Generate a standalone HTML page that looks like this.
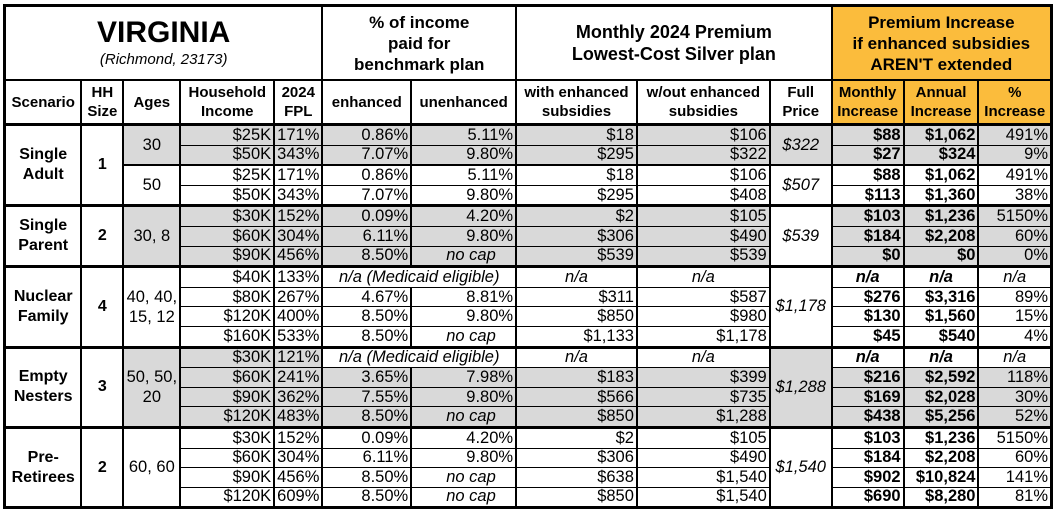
<!DOCTYPE html>
<html><head><meta charset="utf-8">
<style>
html,body{margin:0;padding:0;background:#fff;width:1053px;height:512px;overflow:hidden}
table{position:absolute;left:3px;top:4px;border-collapse:collapse;table-layout:fixed;font-family:"Liberation Sans",Arial,sans-serif;font-size:16.5px;color:#000}
td{border-left:2px solid #000;border-right:2px solid #000;border-top:1px solid #000;border-bottom:1px solid #000;padding:0 2px;height:18.6px;line-height:17px;white-space:nowrap;overflow:hidden;text-align:right}
.h1 td{height:72px;border-top:3px solid #000;border-bottom:2px solid #000;text-align:center;font-weight:bold;font-size:17px;line-height:21px}
.h2 td{height:42px;border-bottom:3px solid #000;text-align:center;font-weight:bold;font-size:15px;line-height:19px}
.g{background:#d9d9d9}
.o{background:#fbbc3c}
.c{text-align:center}
.b{font-weight:bold}
.i{font-style:italic}
.sc{text-align:center;font-weight:bold;font-size:16px;line-height:20px}
.top td{border-top:3px solid #000}
.last td{border-bottom:3px solid #000}
.nc{text-align:left;padding-left:34px;font-style:italic}
</style></head><body>
<table>
<colgroup>
<col style="width:77px"><col style="width:42px"><col style="width:57px"><col style="width:94px"><col style="width:45px"><col style="width:89px"><col style="width:105px"><col style="width:121px"><col style="width:133px"><col style="width:62px"><col style="width:72px"><col style="width:75px"><col style="width:73px">
</colgroup>
<tr class="h1">
<td colspan="5" style="border-left:3px solid #000"><div style="font-size:30px;line-height:34px;margin-top:0px">VIRGINIA</div><div style="font-weight:normal;font-style:italic;font-size:15px;line-height:20px">(Richmond, 23173)</div></td>
<td colspan="2">% of income<br>paid for<br>benchmark plan</td>
<td colspan="3" style="font-size:18px;line-height:22px">Monthly 2024 Premium<br>Lowest-Cost Silver plan</td>
<td colspan="3" class="o" style="border-right:3px solid #000">Premium Increase<br>if enhanced subsidies<br>AREN'T extended</td>
</tr>
<tr class="h2">
<td style="border-left:3px solid #000">Scenario</td><td>HH<br>Size</td><td>Ages</td><td>Household<br>Income</td><td>2024<br>FPL</td><td>enhanced</td><td>unenhanced</td><td>with enhanced<br>subsidies</td><td>w/out enhanced<br>subsidies</td><td>Full<br>Price</td><td class="o">Monthly<br>Increase</td><td class="o">Annual<br>Increase</td><td class="o" style="border-right:3px solid #000">%<br>Increase</td>
</tr>
<!-- Single Adult -->
<tr class="top"><td rowspan="4" class="sc" style="border-left:3px solid #000;border-bottom:3px solid #000">Single<br>Adult</td><td rowspan="4" class="sc" style="border-bottom:3px solid #000">1</td><td rowspan="2" class="g c">30</td><td class="g">$25K</td><td class="g">171%</td><td class="g">0.86%</td><td class="g">5.11%</td><td class="g">$18</td><td class="g">$106</td><td rowspan="2" class="g c i">$322</td><td class="g b">$88</td><td class="g b">$1,062</td><td class="g" style="border-right:3px solid #000">491%</td></tr>
<tr><td class="g">$50K</td><td class="g">343%</td><td class="g">7.07%</td><td class="g">9.80%</td><td class="g">$295</td><td class="g">$322</td><td class="g b">$27</td><td class="g b">$324</td><td class="g" style="border-right:3px solid #000">9%</td></tr>
<tr><td rowspan="2" class="c" style="border-top:2px solid #000;border-bottom:3px solid #000">50</td><td style="border-top:2px solid #000">$25K</td><td style="border-top:2px solid #000">171%</td><td style="border-top:2px solid #000">0.86%</td><td style="border-top:2px solid #000">5.11%</td><td style="border-top:2px solid #000">$18</td><td style="border-top:2px solid #000">$106</td><td rowspan="2" class="c i" style="border-top:2px solid #000;border-bottom:3px solid #000">$507</td><td class="b" style="border-top:2px solid #000">$88</td><td class="b" style="border-top:2px solid #000">$1,062</td><td style="border-top:2px solid #000;border-right:3px solid #000">491%</td></tr>
<tr class="last"><td>$50K</td><td>343%</td><td>7.07%</td><td>9.80%</td><td>$295</td><td>$408</td><td class="b">$113</td><td class="b">$1,360</td><td style="border-right:3px solid #000">38%</td></tr>
<!-- Single Parent -->
<tr class="top"><td rowspan="3" class="sc" style="border-left:3px solid #000;border-bottom:3px solid #000">Single<br>Parent</td><td rowspan="3" class="sc" style="border-bottom:3px solid #000">2</td><td rowspan="3" class="g c" style="border-bottom:3px solid #000">30, 8</td><td class="g">$30K</td><td class="g">152%</td><td class="g">0.09%</td><td class="g">4.20%</td><td class="g">$2</td><td class="g">$105</td><td rowspan="3" class="c i" style="border-bottom:3px solid #000">$539</td><td class="g b">$103</td><td class="g b">$1,236</td><td class="g" style="border-right:3px solid #000">5150%</td></tr>
<tr><td class="g">$60K</td><td class="g">304%</td><td class="g">6.11%</td><td class="g">9.80%</td><td class="g">$306</td><td class="g">$490</td><td class="g b">$184</td><td class="g b">$2,208</td><td class="g" style="border-right:3px solid #000">60%</td></tr>
<tr class="last"><td class="g">$90K</td><td class="g">456%</td><td class="g">8.50%</td><td class="g nc">no cap</td><td class="g">$539</td><td class="g">$539</td><td class="g b">$0</td><td class="g b">$0</td><td class="g" style="border-right:3px solid #000">0%</td></tr>
<!-- Nuclear -->
<tr class="top"><td rowspan="4" class="sc" style="border-left:3px solid #000;border-bottom:3px solid #000">Nuclear<br>Family</td><td rowspan="4" class="sc" style="border-bottom:3px solid #000">4</td><td rowspan="4" class="c" style="border-bottom:3px solid #000;line-height:20px">40, 40,<br>15, 12</td><td>$40K</td><td>133%</td><td colspan="2" class="c i">n/a (Medicaid eligible)</td><td class="c i">n/a</td><td class="c i">n/a</td><td rowspan="4" class="c i" style="border-bottom:3px solid #000">$1,178</td><td class="c b i">n/a</td><td class="c b i">n/a</td><td class="c i" style="border-right:3px solid #000">n/a</td></tr>
<tr><td>$80K</td><td>267%</td><td>4.67%</td><td>8.81%</td><td>$311</td><td>$587</td><td class="b">$276</td><td class="b">$3,316</td><td style="border-right:3px solid #000">89%</td></tr>
<tr><td>$120K</td><td>400%</td><td>8.50%</td><td>9.80%</td><td>$850</td><td>$980</td><td class="b">$130</td><td class="b">$1,560</td><td style="border-right:3px solid #000">15%</td></tr>
<tr class="last"><td>$160K</td><td>533%</td><td>8.50%</td><td class="nc">no cap</td><td>$1,133</td><td>$1,178</td><td class="b">$45</td><td class="b">$540</td><td style="border-right:3px solid #000">4%</td></tr>
<!-- Empty Nesters -->
<tr class="top"><td rowspan="4" class="sc" style="border-left:3px solid #000;border-bottom:3px solid #000">Empty<br>Nesters</td><td rowspan="4" class="sc" style="border-bottom:3px solid #000">3</td><td rowspan="4" class="g c" style="border-bottom:3px solid #000;line-height:20px">50, 50,<br>20</td><td class="g">$30K</td><td class="g">121%</td><td colspan="2" class="c i">n/a (Medicaid eligible)</td><td class="c i">n/a</td><td class="c i">n/a</td><td rowspan="4" class="g c i" style="border-bottom:3px solid #000">$1,288</td><td class="c b i">n/a</td><td class="c b i">n/a</td><td class="c i" style="border-right:3px solid #000">n/a</td></tr>
<tr><td class="g">$60K</td><td class="g">241%</td><td class="g">3.65%</td><td class="g">7.98%</td><td class="g">$183</td><td class="g">$399</td><td class="g b">$216</td><td class="g b">$2,592</td><td class="g" style="border-right:3px solid #000">118%</td></tr>
<tr><td class="g">$90K</td><td class="g">362%</td><td class="g">7.55%</td><td class="g">9.80%</td><td class="g">$566</td><td class="g">$735</td><td class="g b">$169</td><td class="g b">$2,028</td><td class="g" style="border-right:3px solid #000">30%</td></tr>
<tr class="last"><td class="g">$120K</td><td class="g">483%</td><td class="g">8.50%</td><td class="g nc">no cap</td><td class="g">$850</td><td class="g">$1,288</td><td class="g b">$438</td><td class="g b">$5,256</td><td class="g" style="border-right:3px solid #000">52%</td></tr>
<!-- Pre-Retirees -->
<tr class="top"><td rowspan="4" class="sc" style="border-left:3px solid #000;border-bottom:3px solid #000">Pre-<br>Retirees</td><td rowspan="4" class="sc" style="border-bottom:3px solid #000">2</td><td rowspan="4" class="c" style="border-bottom:3px solid #000">60, 60</td><td>$30K</td><td>152%</td><td>0.09%</td><td>4.20%</td><td>$2</td><td>$105</td><td rowspan="4" class="c i" style="border-bottom:3px solid #000">$1,540</td><td class="b">$103</td><td class="b">$1,236</td><td style="border-right:3px solid #000">5150%</td></tr>
<tr><td>$60K</td><td>304%</td><td>6.11%</td><td>9.80%</td><td>$306</td><td>$490</td><td class="b">$184</td><td class="b">$2,208</td><td style="border-right:3px solid #000">60%</td></tr>
<tr><td>$90K</td><td>456%</td><td>8.50%</td><td class="nc">no cap</td><td>$638</td><td>$1,540</td><td class="b">$902</td><td class="b">$10,824</td><td style="border-right:3px solid #000">141%</td></tr>
<tr class="last"><td>$120K</td><td>609%</td><td>8.50%</td><td class="nc">no cap</td><td>$850</td><td>$1,540</td><td class="b">$690</td><td class="b">$8,280</td><td style="border-right:3px solid #000">81%</td></tr>
</table>
</body></html>
